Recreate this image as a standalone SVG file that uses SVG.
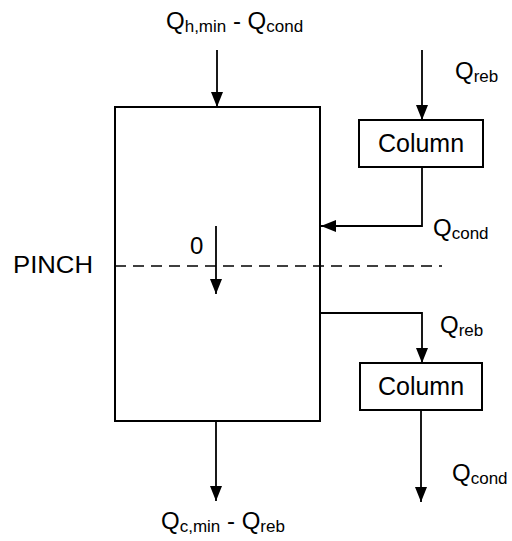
<svg xmlns="http://www.w3.org/2000/svg" width="512" height="541" viewBox="0 0 512 541">
<style>
text{font-family:"Liberation Sans",Arial,sans-serif;fill:#000}
.lbl{font-size:24px}
.sub{font-size:17px}
.col{font-size:25px}
.box{fill:#fff;stroke:#000;stroke-width:2}
.ln{fill:none;stroke:#000;stroke-width:1.8}
.dash{fill:none;stroke:#000;stroke-width:1.4;stroke-dasharray:11 7}
</style>
<defs>
<marker id="ahv" markerWidth="15" markerHeight="12" refX="15" refY="6" orient="auto" markerUnits="userSpaceOnUse" viewBox="0 0 15 12">
<path d="M0,0 L15,6 L0,12 Z" fill="#000"/>
</marker>
</defs>
<g id="connectors">
<line class="ln" x1="217" y1="50" x2="217" y2="107" marker-end="url(#ahv)"/>
<line class="ln" x1="422" y1="50" x2="422" y2="120" marker-end="url(#ahv)"/>
<polyline class="ln" points="422,167 422,226 321,226" marker-end="url(#ahv)"/>
<line class="ln" x1="216" y1="226" x2="216" y2="294" marker-end="url(#ahv)"/>
<polyline class="ln" points="320,313 422,313 422,363" marker-end="url(#ahv)"/>
<line class="ln" x1="421" y1="410" x2="421" y2="502" marker-end="url(#ahv)"/>
<line class="ln" x1="216" y1="421" x2="216" y2="501" marker-end="url(#ahv)"/>
</g>
<g id="main">
<rect x="115" y="107" width="205" height="314" fill="none" stroke="#000" stroke-width="2"/>
</g>
<g id="pinch">
<line class="dash" x1="115" y1="266" x2="442" y2="266"/>
<text class="lbl" x="13" y="273" textLength="80" lengthAdjust="spacingAndGlyphs">PINCH</text>
</g>
<g id="column1">
<rect class="box" x="359" y="120" width="124" height="47"/>
<text class="col" x="421" y="152" text-anchor="middle">Column</text>
</g>
<g id="column2">
<rect class="box" x="360" y="363" width="122" height="47"/>
<text class="col" x="421" y="395" text-anchor="middle">Column</text>
</g>
<g id="labels">
<text class="lbl" x="166" y="29">Q<tspan class="sub" dy="3">h,min</tspan><tspan dy="-3"> - Q</tspan><tspan class="sub" dy="3">cond</tspan></text>
<text class="lbl" x="455" y="79">Q<tspan class="sub" dy="3">reb</tspan></text>
<text class="lbl" x="433" y="236">Q<tspan class="sub" dy="3">cond</tspan></text>
<text class="lbl" x="190" y="254">0</text>
<text class="lbl" x="440" y="333">Q<tspan class="sub" dy="3">reb</tspan></text>
<text class="lbl" x="452" y="481">Q<tspan class="sub" dy="3">cond</tspan></text>
<text class="lbl" x="161" y="529">Q<tspan class="sub" dy="3">c,min</tspan><tspan dy="-3"> - Q</tspan><tspan class="sub" dy="3">reb</tspan></text>
</g>
</svg>
